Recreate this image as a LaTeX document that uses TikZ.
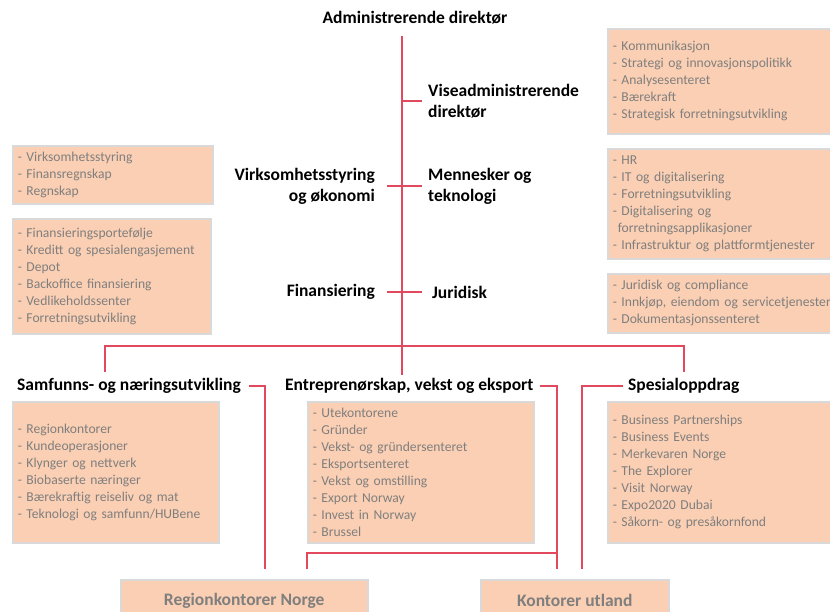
\documentclass[tikz,border=0pt]{standalone}
\usepackage{fontspec}
\setmainfont{Carlito}
\usepackage{tikz}
\definecolor{linkred}{HTML}{E2495E}
\definecolor{boxfill}{HTML}{FBCFB3}
\definecolor{boxline}{HTML}{D9D9D9}
\definecolor{itemgray}{HTML}{7F7F7F}

\begin{document}
\begin{tikzpicture}[x=1pt, y=-1pt,
	head/.style = {font=\bfseries\fontsize{17.5}{21}\selectfont, inner sep=0pt},
	unit/.style = {draw=boxline, line width=1.5pt, fill=boxfill, text=itemgray, font=\fontsize{13.6}{17}\selectfont, align=left, anchor=north west, inner xsep=5pt, inner ysep=0pt},
	office/.style = {draw=boxline, line width=1.5pt, fill=boxfill, text=itemgray, font=\bfseries\fontsize{17.5}{21}\selectfont, anchor=north west, inner sep=0pt},
	link/.style = {draw=linkred, line width=2pt}]
	\path[use as bounding box, clip] (0,0) rectangle (830,611);
	\node[head] (adm) at (415,18) {Administrerende direktør};
	\node[head, anchor=west, align=left] (vad) at (428,101) {Viseadministrerende\\direktør};
	\node[head, anchor=west, align=left] (mt) at (428,186) {Mennesker og\\teknologi};
	\node[head, anchor=east, align=right] (vo) at (375,186) {Virksomhetsstyring\\og økonomi};
	\node[head, anchor=east] (fin) at (375,292) {Finansiering};
	\node[head, anchor=west] (jur) at (432,292) {Juridisk};
	\node[head, anchor=west] (snu) at (17,386) {Samfunns- og næringsutvikling};
	\node[head, anchor=west] (eve) at (285,386) {Entreprenørskap, vekst og eksport};
	\node[head, anchor=west] (spo) at (628,386) {Spesialoppdrag};
	\node[unit, text width=260pt, minimum height=105pt] (vadunit) at (607,28) {- Kommunikasjon\\- Strategi og innovasjonspolitikk\\- Analysesenteret\\- Bærekraft\\- Strategisk forretningsutvikling};
	\node[unit, text width=260pt, minimum height=110pt] (mtunit) at (607,148) {- HR\\- IT og digitalisering\\- Forretningsutvikling\\- Digitalisering og\\\hspace*{5pt}forretningsapplikasjoner\\- Infrastruktur og plattformtjenester};
	\node[unit, text width=260pt, minimum height=59pt] (jurunit) at (607,273) {- Juridisk og compliance\\- Innkjøp, eiendom og servicetjenester\\- Dokumentasjonssenteret};
	\node[unit, text width=190pt, minimum height=58pt] (vounit) at (12,145) {- Virksomhetsstyring\\- Finansregnskap\\- Regnskap};
	\node[unit, text width=188pt, minimum height=115pt] (finunit) at (12,218) {- Finansieringsportefølje\\- Kreditt og spesialengasjement\\- Depot\\- Backoffice finansiering\\- Vedlikeholdssenter\\- Forretningsutvikling};
	\node[unit, text width=196pt, minimum height=141pt] (snuunit) at (12,401) {- Regionkontorer\\- Kundeoperasjoner\\- Klynger og nettverk\\- Biobaserte næringer\\- Bærekraftig reiseliv og mat\\- Teknologi og samfunn/HUBene};
	\node[unit, text width=216pt, minimum height=141pt] (eveunit) at (307,401) {- Utekontorene\\- Gründer\\- Vekst- og gründersenteret\\- Eksportsenteret\\- Vekst og omstilling\\- Export Norway\\- Invest in Norway\\- Brussel};
	\node[unit, text width=260pt, minimum height=141pt] (spounit) at (607,401) {- Business Partnerships\\- Business Events\\- Merkevaren Norge\\- The Explorer\\- Visit Norway\\- Expo2020 Dubai\\- Såkorn- og presåkornfond};
	\node[office, minimum width=247pt, minimum height=42pt] (rkn) at (120,579) {Regionkontorer Norge};
	\node[office, minimum width=188pt, minimum height=42pt] (kut) at (480,579) {Kontorer utland};
	\coordinate (t0) at (402,36);
	\coordinate (t1) at (402,346);
	\coordinate (t2) at (402,375);
	\coordinate (dl) at (105,372);
	\coordinate (dr) at (684,372);
	\coordinate (rk1) at (265,569);
	\coordinate (rk2) at (307,569);
	\coordinate (ku1) at (557,569);
	\coordinate (ku2) at (582,569);
	\coordinate (j1) at (557,553);
	\draw[link] (t0) -- (t2);
	\draw[link] (dl) |- (t1) -| (dr);
	\draw[link] (t0 |- vad.west) -- ([xshift=-6pt]vad.west);
	\draw[link] ([xshift=12pt]vo.east) -- ([xshift=-6pt]mt.west);
	\draw[link] ([xshift=12pt]fin.east) -- ([xshift=-10pt]jur.west);
	\draw[link] ([xshift=8pt]snu.east) -| (rk1);
	\draw[link] ([xshift=6pt]eve.east) -| (ku1);
	\draw[link] (rk2) |- (j1);
	\draw[link] ([xshift=-5pt]spo.west) -| (ku2);
\end{tikzpicture}
\end{document}
